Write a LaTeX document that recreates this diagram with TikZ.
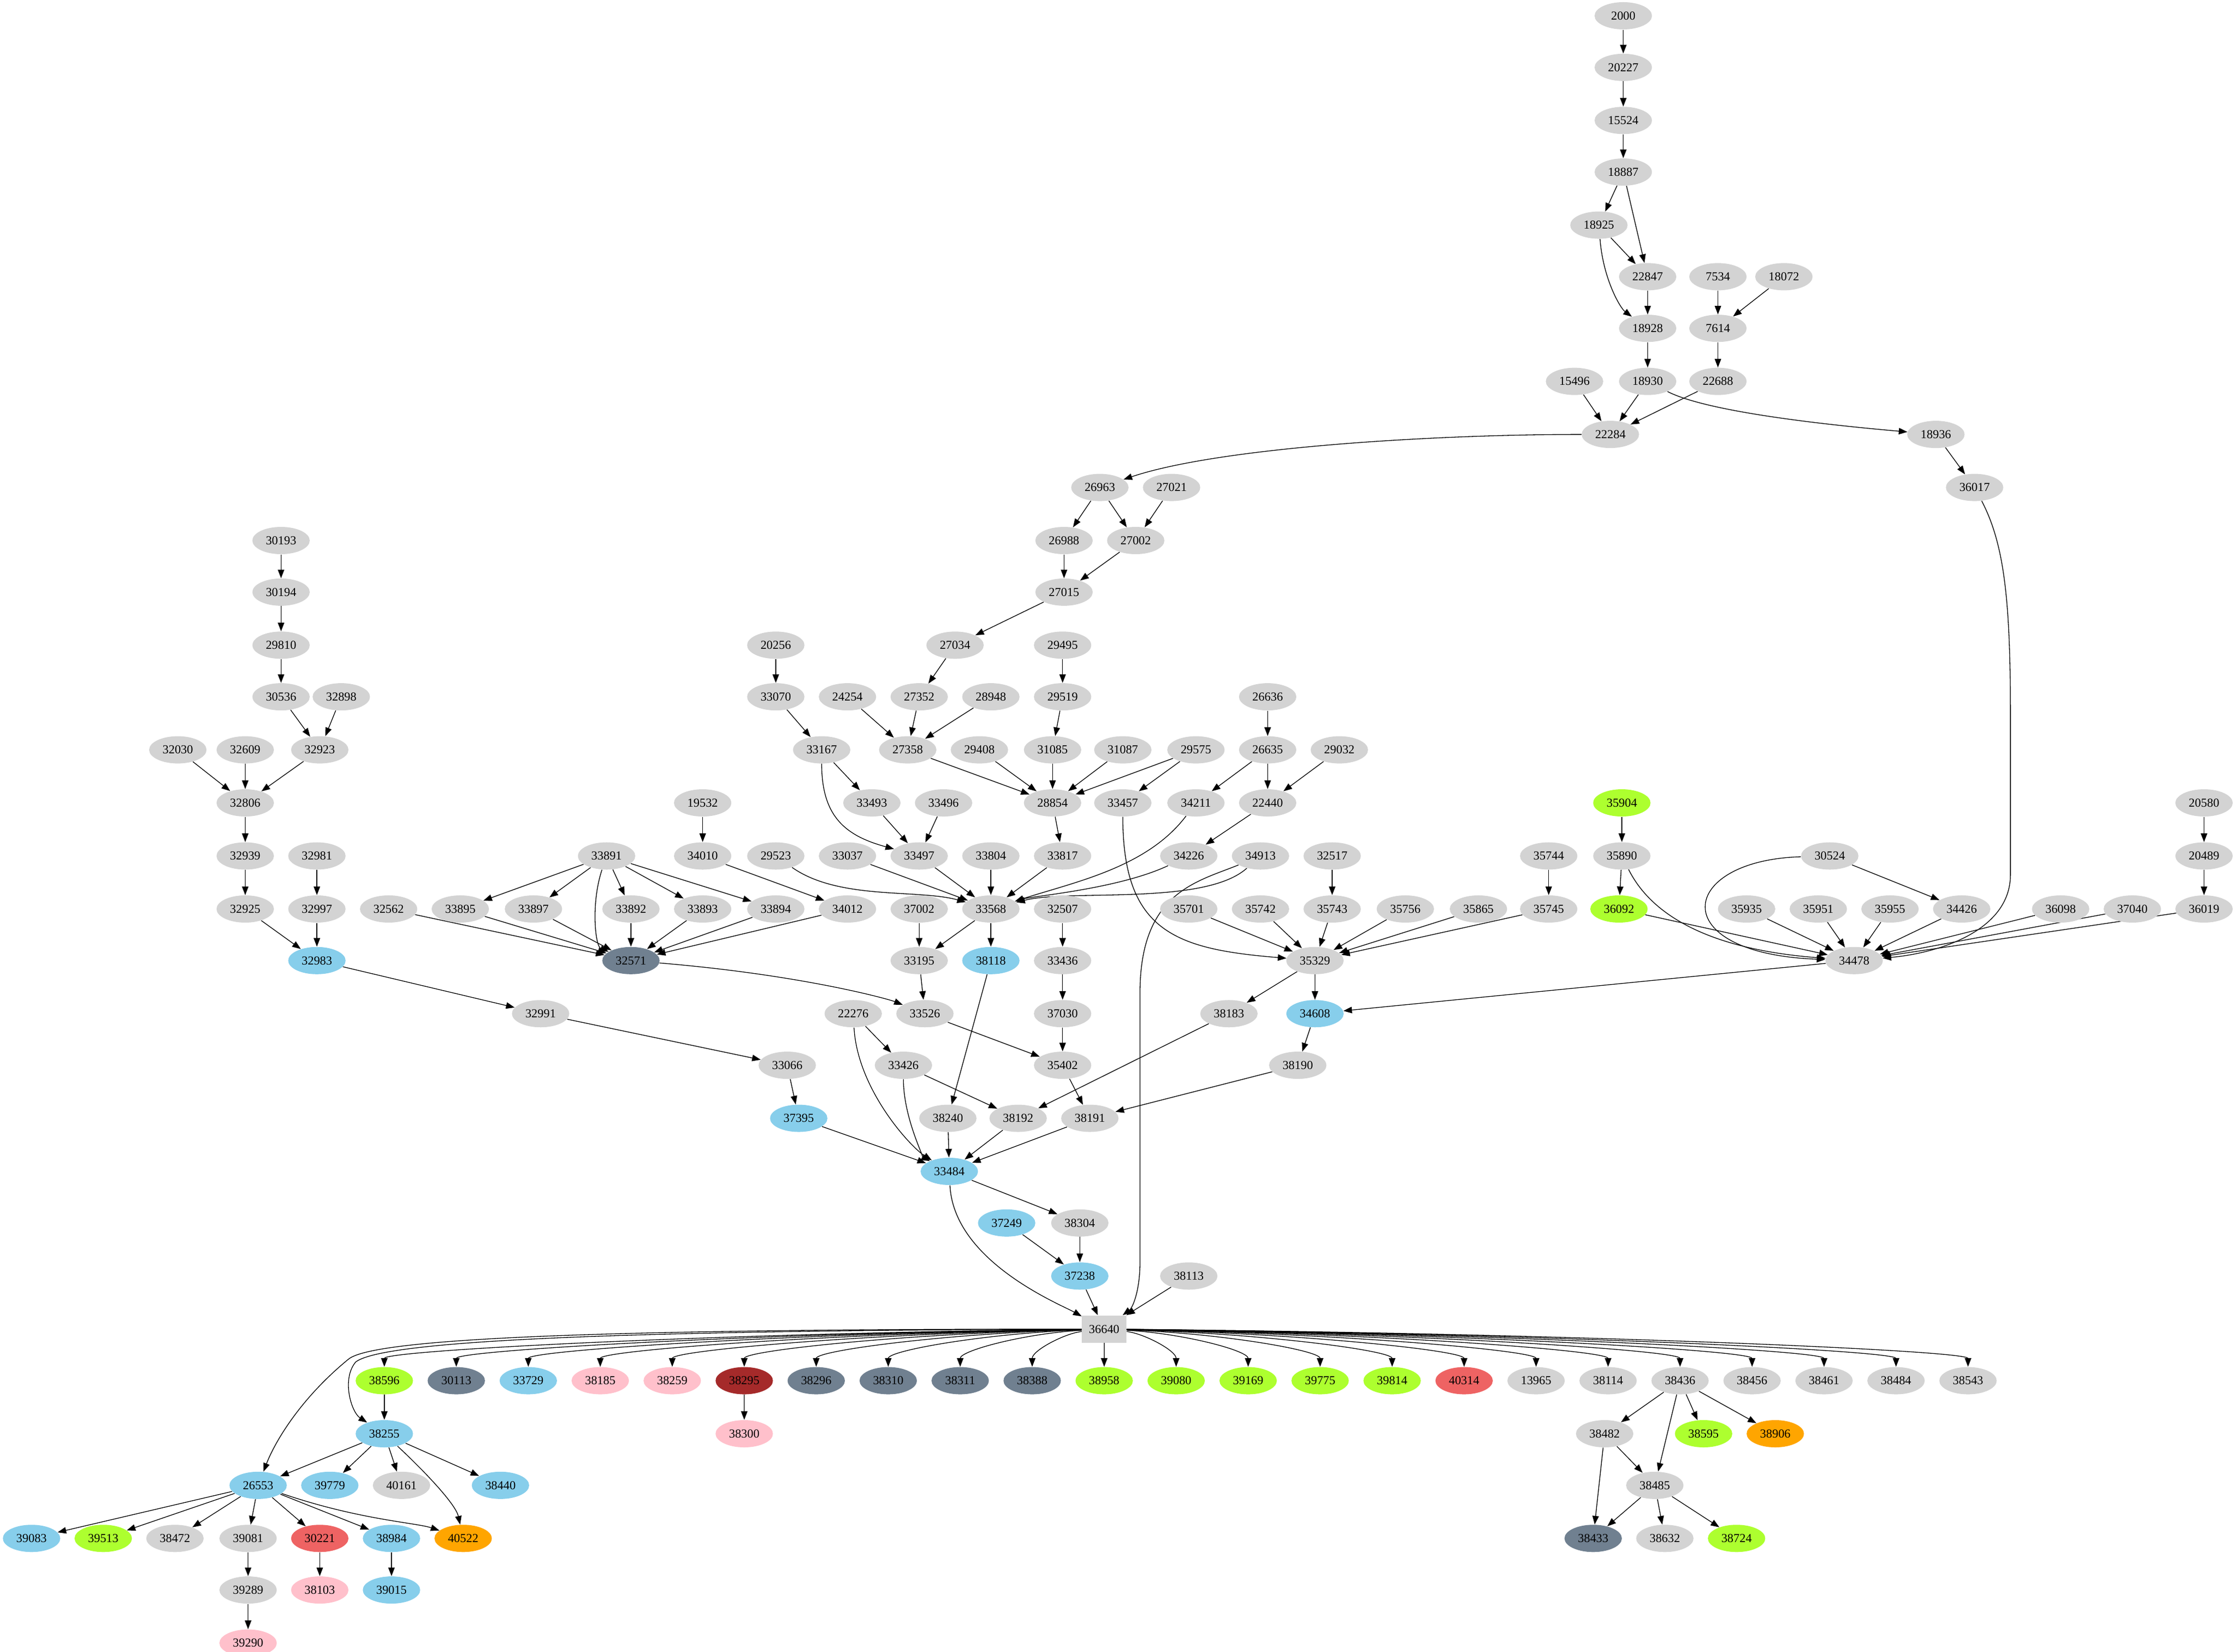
\documentclass[tikz,border=0pt]{standalone}
\usepackage{fontspec}
\setmainfont{Liberation Serif}
\usetikzlibrary{shapes.geometric,arrows.meta,backgrounds}
\definecolor{gr}{HTML}{D3D3D3}
\definecolor{sb}{HTML}{87CEEB}
\definecolor{gy}{HTML}{ADFF2F}
\definecolor{sl}{HTML}{708090}
\definecolor{pk}{HTML}{FFC0CB}
\definecolor{br}{HTML}{A52A2A}
\definecolor{og}{HTML}{FFA500}
\definecolor{ir}{HTML}{EE6363}
\begin{document}
\begin{tikzpicture}[x=1pt,y=-1pt,
  n/.style={ellipse,fill=gr,minimum width=40pt,minimum height=19pt,inner sep=0pt,font=\fontsize{8.5}{10}\selectfont},
  nb/.style={n,fill=sb}, ng/.style={n,fill=gy}, ns/.style={n,fill=sl},
  np/.style={n,fill=pk}, nbr/.style={n,fill=br}, no/.style={n,fill=og}, nr/.style={n,fill=ir},
  e/.style={-{Triangle[length=6pt,width=4.5pt]},line width=0.5pt}]
\useasboundingbox (0,0) rectangle (1560,1152);
% top chain
\node[n] (n2000) at (1132,11) {2000};
\node[n] (n20227) at (1132,47) {20227};
\node[n] (n15524) at (1132,84) {15524};
\node[n] (n18887) at (1132,120) {18887};
\node[n] (n18925) at (1115,157) {18925};
\node[n] (n22847) at (1149,193) {22847};
\node[n] (n7534) at (1198,193) {7534};
\node[n] (n18072) at (1244,193) {18072};
\node[n] (n18928) at (1149,229) {18928};
\node[n] (n7614) at (1198,229) {7614};
\node[n] (n15496) at (1098,266) {15496};
\node[n] (n18930) at (1149,266) {18930};
\node[n] (n22688) at (1198,266) {22688};
\node[n] (n22284) at (1123,303) {22284};
\node[n] (n18936) at (1350,303) {18936};
\node[n] (n26963) at (767,340) {26963};
\node[n] (n27021) at (817,340) {27021};
\node[n] (n36017) at (1377,340) {36017};
\node[n] (n26988) at (742,377) {26988};
\node[n] (n27002) at (792,377) {27002};
\node[n] (n27015) at (742,413) {27015};
\node[n] (n30193) at (196,377) {30193};
\node[n] (n30194) at (196,413) {30194};
\node[n] (n29810) at (196,450) {29810};
\node[n] (n30536) at (196,486) {30536};
\node[n] (n32898) at (238,486) {32898};
\node[n] (n20256) at (541,450) {20256};
\node[n] (n27034) at (666,450) {27034};
\node[n] (n29495) at (741,450) {29495};
\node[n] (n33070) at (541,486) {33070};
\node[n] (n24254) at (591,486) {24254};
\node[n] (n27352) at (641,486) {27352};
\node[n] (n28948) at (691,486) {28948};
\node[n] (n29519) at (741,486) {29519};
\node[n] (n26636) at (884,486) {26636};
\node[n] (n32030) at (124,523) {32030};
\node[n] (n32609) at (171,523) {32609};
\node[n] (n32923) at (223,523) {32923};
\node[n] (n33167) at (573,523) {33167};
\node[n] (n27358) at (633,523) {27358};
\node[n] (n29408) at (683,523) {29408};
\node[n] (n31085) at (734,523) {31085};
\node[n] (n31087) at (783,523) {31087};
\node[n] (n29575) at (834,523) {29575};
\node[n] (n26635) at (884,523) {26635};
\node[n] (n29032) at (934,523) {29032};
\node[n] (n32806) at (171,560) {32806};
\node[n] (n19532) at (490,560) {19532};
\node[n] (n33493) at (608,560) {33493};
\node[n] (n33496) at (658,560) {33496};
\node[n] (n28854) at (734,560) {28854};
\node[n] (n33457) at (783,560) {33457};
\node[n] (n34211) at (834,560) {34211};
\node[n] (n22440) at (884,560) {22440};
\node[ng] (n35904) at (1131,560) {35904};
\node[n] (n20580) at (1537,560) {20580};
\node[n] (n32939) at (171,597) {32939};
\node[n] (n32981) at (221,597) {32981};
\node[n] (n33891) at (423,597) {33891};
\node[n] (n34010) at (490,597) {34010};
\node[n] (n29523) at (541,597) {29523};
\node[n] (n33037) at (591,597) {33037};
\node[n] (n33497) at (641,597) {33497};
\node[n] (n33804) at (691,597) {33804};
\node[n] (n33817) at (741,597) {33817};
\node[n] (n34226) at (829,597) {34226};
\node[n] (n34913) at (879,597) {34913};
\node[n] (n32517) at (929,597) {32517};
\node[n] (n35744) at (1080,597) {35744};
\node[n] (n35890) at (1131,597) {35890};
\node[n] (n30524) at (1276,597) {30524};
\node[n] (n20489) at (1537,597) {20489};
\node[n] (n32925) at (171,634) {32925};
\node[n] (n32997) at (221,634) {32997};
\node[n] (n32562) at (271,634) {32562};
\node[n] (n33895) at (321,634) {33895};
\node[n] (n33897) at (372,634) {33897};
\node[n] (n33892) at (440,634) {33892};
\node[n] (n33893) at (490,634) {33893};
\node[n] (n33894) at (541,634) {33894};
\node[n] (n34012) at (591,634) {34012};
\node[n] (n37002) at (641,634) {37002};
\node[n] (n33568) at (691,634) {33568};
\node[n] (n32507) at (741,634) {32507};
\node[n] (n35701) at (829,634) {35701};
\node[n] (n35742) at (879,634) {35742};
\node[n] (n35743) at (929,634) {35743};
\node[n] (n35756) at (980,634) {35756};
\node[n] (n35865) at (1031,634) {35865};
\node[n] (n35745) at (1080,634) {35745};
\node[ng] (n36092) at (1129,634) {36092};
\node[n] (n35935) at (1218,634) {35935};
\node[n] (n35951) at (1268,634) {35951};
\node[n] (n35955) at (1318,634) {35955};
\node[n] (n34426) at (1368,634) {34426};
\node[n] (n36098) at (1437,634) {36098};
\node[n] (n37040) at (1487,634) {37040};
\node[n] (n36019) at (1537,634) {36019};
\node[nb] (n32983) at (221,670) {32983};
\node[ns] (n32571) at (440,670) {32571};
\node[n] (n33195) at (641,670) {33195};
\node[nb] (n38118) at (691,670) {38118};
\node[n] (n33436) at (741,670) {33436};
\node[n] (n35329) at (917,670) {35329};
\node[n] (n34478) at (1293,670) {34478};
\node[n] (n32991) at (377,707) {32991};
\node[n] (n22276) at (595,707) {22276};
\node[n] (n33526) at (645,707) {33526};
\node[n] (n37030) at (741,707) {37030};
\node[n] (n38183) at (857,707) {38183};
\node[nb] (n34608) at (917,707) {34608};
\node[n] (n33066) at (549,743) {33066};
\node[n] (n33426) at (630,743) {33426};
\node[n] (n35402) at (741,743) {35402};
\node[n] (n38190) at (905,743) {38190};
\node[nb] (n37395) at (557,780) {37395};
\node[n] (n38240) at (661,780) {38240};
\node[n] (n38192) at (710,780) {38192};
\node[n] (n38191) at (760,780) {38191};
\node[nb] (n33484) at (662,817) {33484};
\node[nb] (n37249) at (702,853) {37249};
\node[n] (n38304) at (753,853) {38304};
\node[nb] (n37238) at (753,890) {37238};
\node[n] (n38113) at (829,890) {38113};
\node[rectangle,fill=gr,minimum width=31pt,minimum height=19pt,inner sep=0pt,font=\fontsize{8.5}{10}\selectfont] (n36640) at (770,927) {36640};
% bottom row
\foreach \nm/\st [count=\i from 0] in {38596/ng,30113/ns,33729/nb,38185/np,38259/np,38295/nbr,38296/ns,38310/ns,38311/ns,38388/ns,38958/ng,39080/ng,39169/ng,39775/ng,39814/ng,40314/nr,13965/n,38114/n,38436/n,38456/n,38461/n,38484/n,38543/n}
  {\node[\st] (n\nm) at ({268+50.2*\i},963) {\nm};}
\node[nb] (n38255) at (268,1000) {38255};
\node[np] (n38300) at (519,1000) {38300};
\node[n] (n38482) at (1119,1000) {38482};
\node[ng] (n38595) at (1188,1000) {38595};
\node[no] (n38906) at (1238,1000) {38906};
\node[nb] (n26553) at (180,1036) {26553};
\node[nb] (n39779) at (230,1036) {39779};
\node[n] (n40161) at (280,1036) {40161};
\node[nb] (n38440) at (349,1036) {38440};
\node[n] (n38485) at (1154,1036) {38485};
\node[nb] (n39083) at (22,1073) {39083};
\node[ng] (n39513) at (72,1073) {39513};
\node[n] (n38472) at (122,1073) {38472};
\node[n] (n39081) at (173,1073) {39081};
\node[nr] (n30221) at (223,1073) {30221};
\node[nb] (n38984) at (273,1073) {38984};
\node[no] (n40522) at (323,1073) {40522};
\node[ns] (n38433) at (1111,1073) {38433};
\node[n] (n38632) at (1161,1073) {38632};
\node[ng] (n38724) at (1211,1073) {38724};
\node[n] (n39289) at (173,1109) {39289};
\node[np] (n38103) at (223,1109) {38103};
\node[nb] (n39015) at (273,1109) {39015};
\node[np] (n39290) at (173,1146) {39290};
\coordinate (c1) at (1402,500);
\coordinate (c2) at (1402,610);
\coordinate (c3) at (795,690);
\coordinate (c4) at (795,880);
\coordinate (c5) at (248,950);
\coordinate (c6) at (243,948);
\begin{pgfonlayer}{background}
% straight edges
\foreach \a/\b in {2000/20227,20227/15524,15524/18887,18887/18925,18887/22847,18925/22847,22847/18928,7534/7614,18072/7614,18928/18930,7614/22688,15496/22284,18930/22284,22688/22284,18936/36017,26963/26988,26963/27002,27021/27002,26988/27015,27002/27015,27015/27034,27034/27352,20256/33070,33070/33167,24254/27358,27352/27358,28948/27358,29495/29519,29519/31085,26636/26635,27358/28854,29408/28854,31085/28854,31087/28854,29575/28854,29575/33457,26635/34211,26635/22440,29032/22440,33167/33493,33493/33497,33496/33497,28854/33817,22440/34226,19532/34010,30193/30194,30194/29810,29810/30536,30536/32923,32898/32923,32030/32806,32609/32806,32923/32806,32806/32939,32939/32925,32981/32997,32925/32983,32997/32983,33891/33895,33891/33897,33891/33892,33891/33893,33891/33894,34010/34012,32562/32571,33895/32571,33897/32571,33892/32571,33893/32571,33894/32571,34012/32571,33037/33568,33497/33568,33804/33568,33817/33568,33568/33195,33568/38118,37002/33195,32507/33436,32517/35743,35744/35745,35904/35890,35890/36092,30524/34426,20580/20489,20489/36019,35701/35329,35742/35329,35743/35329,35756/35329,35865/35329,35745/35329,36092/34478,35935/34478,35951/34478,35955/34478,34426/34478,36098/34478,37040/34478,36019/34478,32983/32991,33195/33526,33436/37030,35329/38183,35329/34608,34478/34608,32991/33066,33526/35402,37030/35402,22276/33426,34608/38190,33066/37395,33426/38192,38118/38240,38183/38192,35402/38191,38190/38191,37395/33484,38240/33484,38192/33484,38191/33484,33484/38304,37249/37238,38304/37238,37238/36640,38113/36640,38596/38255,38295/38300,38255/26553,38255/39779,38255/40161,38255/38440,26553/39083,26553/39513,26553/38472,26553/39081,26553/30221,26553/38984,39081/39289,39289/39290,30221/38103,38984/39015,38436/38482,38436/38595,38436/38906,38436/38485,38482/38485,38482/38433,38485/38433,38485/38632,38485/38724}
  {\draw[e] (n\a) -- (n\b);}
% curved edges
\draw[e] (n18925) .. controls (1118,195) and (1130,215) .. (n18928);
\draw[e] (n18930) .. controls (1190,287) and (1270,296) .. (n18936);
\draw[e] (n22284) .. controls (1000,303) and (850,312) .. (n26963);
\draw[e] (n36017) .. controls (1398,380) and (1402,420) .. (c1) -- (c2) .. controls (1402,650) and (1350,665) .. (n34478);
\draw[e] (n33167) .. controls (573,570) and (590,583) .. (n33497);
\draw[e] (n29523) .. controls (585,628) and (640,620) .. (n33568);
\draw[e] (n34211) .. controls (800,605) and (750,615) .. (n33568);
\draw[e] (n34226) .. controls (780,620) and (720,625) .. (n33568);
\draw[e] (n34913) .. controls (840,632) and (745,620) .. (n33568);
\draw[e] (n34913) .. controls (835,615) and (796,622) .. (c3) -- (c4) .. controls (795,900) and (790,912) .. (n36640);
\draw[e] (n33457) .. controls (783,650) and (820,662) .. (n35329);
\draw[e] (n33891) .. controls (412,630) and (415,660) .. (n32571);
\draw[e] (n30524) .. controls (1170,600) and (1160,665) .. (n34478);
\draw[e] (n35890) .. controls (1160,655) and (1230,665) .. (n34478);
\draw[e] (n32571) .. controls (560,680) and (620,697) .. (n33526);
\draw[e] (n22276) .. controls (598,760) and (635,800) .. (n33484);
\draw[e] (n33426) .. controls (630,780) and (645,808) .. (n33484);
\draw[e] (n33484) .. controls (665,880) and (740,910) .. (n36640);
\draw[e] (n36640) .. controls (450,928) and (268,934) .. (c5) .. controls (238,962) and (245,985) .. (n38255);
\draw[e] (n36640) .. controls (450,927) and (262,932) .. (c6) .. controls (210,975) and (192,1005) .. (n26553);
\draw[e] (n38255) .. controls (300,1030) and (318,1050) .. (n40522);
\draw[e] (n26553) .. controls (250,1060) and (290,1062) .. (n40522);
% fan
\foreach \nm [count=\i from 0] in {38596,30113,33729,38185,38259,38295,38296,38310,38311,38388,38958,39080,39169,39775,39814,40314,13965,38114,38436,38456,38461,38484,38543}
  {\pgfmathsetmacro{\tx}{268+50.2*\i}
   \pgfmathsetmacro{\cx}{770+0.55*(\tx-770)}
   \draw[e] (n36640) .. controls (\cx,930) and (\tx,942) .. (n\nm);}
\end{pgfonlayer}
\end{tikzpicture}
\end{document}
